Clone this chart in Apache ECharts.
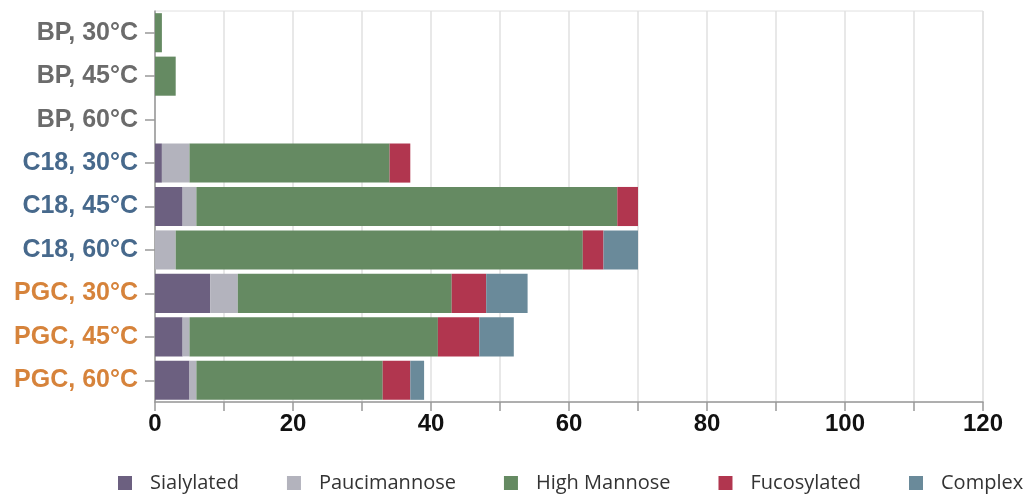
<!DOCTYPE html>
<html>
<head>
<meta charset="utf-8">
<script src="https://cdn.jsdelivr.net/npm/echarts@6/dist/echarts.min.js"></script>
<style>
  html, body { margin: 0; padding: 0; background: #fff; }
  #chart { width: 1033px; height: 495px; }
</style>
</head>
<body>
<div id="chart"></div>
<script>
const categories = ['BP, 30°C', 'BP, 45°C', 'BP, 60°C', 'C18, 30°C', 'C18, 45°C', 'C18, 60°C', 'PGC, 30°C', 'PGC, 45°C', 'PGC, 60°C'];
const sialylated   = [0, 0, 0, 1, 4, 0, 8, 4, 5];
const paucimannose = [0, 0, 0, 4, 2, 3, 4, 1, 1];
const highMannose  = [1, 3, 0, 29, 61, 59, 31, 36, 27];
const fucosylated  = [0, 0, 0, 3, 3, 3, 5, 6, 4];
const complex      = [0, 0, 0, 0, 0, 5, 6, 5, 2];
const xTicks = [0, 20, 40, 60, 80, 100, 120];

const seriesDefs = [
    { name: 'Sialylated', data: sialylated, color: '#6c6080' },
    { name: 'Paucimannose', data: paucimannose, color: '#b3b3bd' },
    { name: 'High Mannose', data: highMannose, color: '#658a62' },
    { name: 'Fucosylated', data: fucosylated, color: '#b1364f' },
    { name: 'Complex', data: complex, color: '#6a8a9a' }
];

function labelStyle(cat) {
    if (cat.startsWith('BP')) return 'bp';
    if (cat.startsWith('C18')) return 'c18';
    return 'pgc';
}

const yFont = { fontFamily: 'Liberation Sans', fontWeight: 'bold', fontSize: 25 };

const chart = echarts.init(document.getElementById('chart'));
chart.setOption({
    animation: false,
    grid: { left: 155, right: 50, top: 11, bottom: 93, show: true, borderColor: '#e0e0e0', borderWidth: 1 },
    legend: {
        top: 473,
        left: 118,
        width: 1000,
        padding: 0,
        itemWidth: 14,
        itemHeight: 14,
        itemGap: 48,
        icon: 'rect',
        textStyle: { fontFamily: 'Open Sans', fontSize: 20, color: '#333', padding: [0, 0, 0, 13] },
        data: seriesDefs.map(s => s.name)
    },
    xAxis: {
        type: 'value',
        min: 0,
        max: 120,
        interval: 10,
        axisLine: { show: true, lineStyle: { color: '#999', width: 1.5 } },
        axisTick: { show: true, length: 9, lineStyle: { color: '#999', width: 1.5 } },
        splitLine: { show: true, lineStyle: { color: '#e0e0e0', width: 1.5 } },
        axisLabel: {
            margin: 10,
            fontFamily: 'Liberation Sans',
            fontWeight: 'bold',
            fontSize: 24,
            color: '#111',
            formatter: v => xTicks.includes(v) ? String(v) : ''
        }
    },
    yAxis: {
        type: 'category',
        inverse: true,
        data: categories,
        axisLine: { show: true, lineStyle: { color: '#999', width: 1.5 } },
        axisTick: { show: true, alignWithLabel: true, length: 10, lineStyle: { color: '#999', width: 1.5 } },
        axisLabel: {
            margin: 17,
            formatter: v => '{' + labelStyle(v) + '|' + v + '}',
            rich: {
                bp: Object.assign({ color: '#6b6b6b' }, yFont),
                c18: Object.assign({ color: '#47698c' }, yFont),
                pgc: Object.assign({ color: '#d6833b' }, yFont)
            }
        }
    },
    series: seriesDefs.map(s => ({
        name: s.name,
        type: 'bar',
        stack: 'total',
        barCategoryGap: '10%',
        data: s.data,
        itemStyle: { color: s.color }
    }))
});
</script>
</body>
</html>
